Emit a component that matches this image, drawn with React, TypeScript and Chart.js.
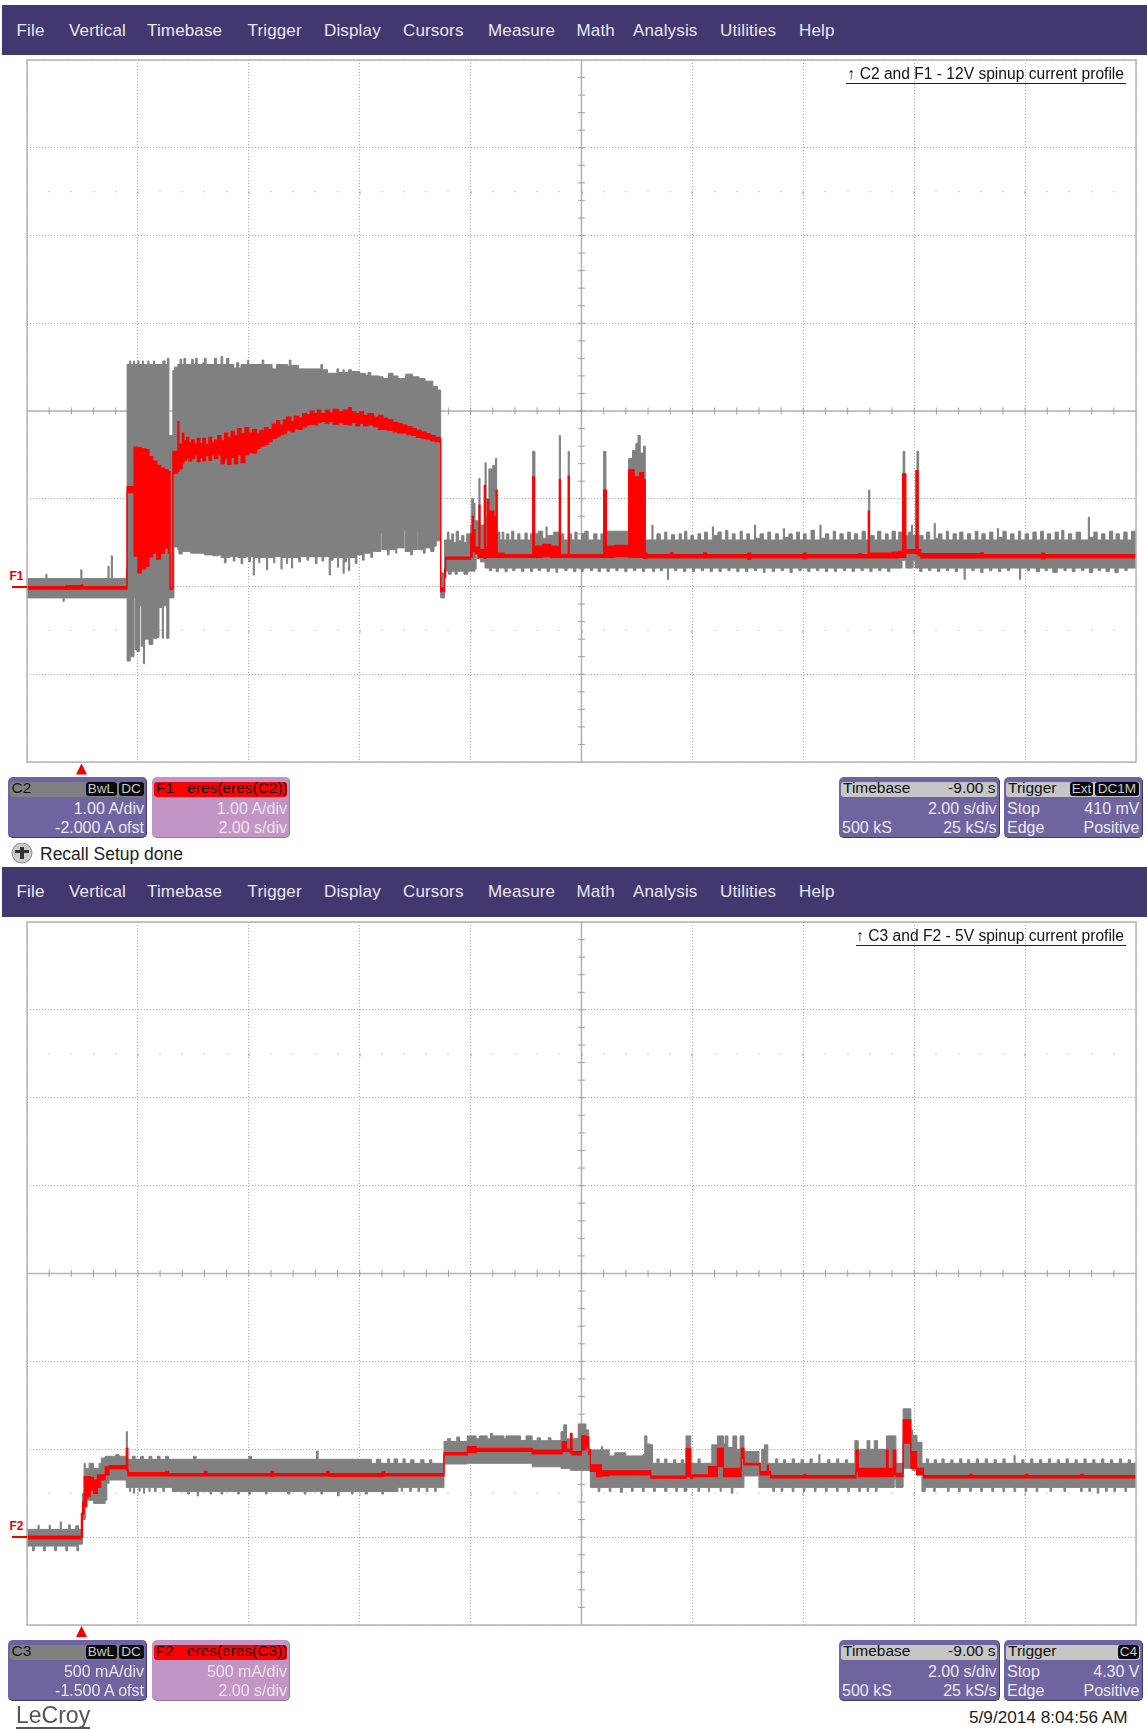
import React, { useEffect, useRef } from "react";
import { Chart, registerables } from "chart.js";
Chart.register(...registerables);

const menuLabels = ["File", "Vertical", "Timebase", "Trigger", "Display", "Cursors", "Measure", "Math", "Analysis", "Utilities", "Help"];
const menuLefts = [16.5, 69, 147, 247.5, 324, 403, 488, 576.5, 633, 720, 799];

// ---- 12 V panel: [time s, current A]; each value holds until the next time
const c2Upper = [
  [-1,.09],[-.66,.14],[-.64,.09],[-.03,.19],[-.01,.09],[.46,.23],[.48,.09],[.52,.35],[.54,.09],[.79,.2],
  [.805,2.53],[.85,2.57],[.87,2.53],[.92,2.57],[.94,2.53],[1.0,2.57],[1.02,2.53],[1.08,2.57],[1.1,2.53],[1.18,2.57],[1.2,2.53],[1.28,2.57],[1.3,2.53],[1.45,2.57],[1.49,2.53],[1.53,2.6],[1.56,1.72],
  [1.63,2.46],[1.66,2.5],[1.72,2.53],[1.76,2.59],[1.79,2.53],[1.83,2.6],[1.86,2.53],[1.97,2.59],[2.0,2.53],[2.04,2.6],[2.07,2.53],[2.17,2.55],[2.2,2.6],[2.23,2.53],[2.38,2.6],[2.42,2.53],[2.5,2.62],[2.53,2.53],[2.6,2.6],[2.64,2.53],[2.73,2.49],[2.78,2.55],[2.82,2.49],[2.86,2.53],[2.98,2.58],[3.0,2.53],[3.24,2.58],[3.27,2.53],[3.42,2.48],[3.5,2.53],[3.62,2.53],[3.7,2.51],[3.73,2.58],[3.76,2.52],[3.9,2.48],[4.3,2.53],[4.33,2.47],[4.42,2.43],[4.59,2.48],[4.62,2.44],[4.7,2.47],[4.72,2.44],[4.8,2.47],[4.85,2.45],[5.0,2.43],[5.1,2.41],[5.15,2.44],[5.2,2.4],[5.35,2.39],[5.42,2.37],[5.52,2.43],[5.6,2.4],[5.69,2.37],[5.83,2.42],[5.95,2.39],[6.07,2.37],[6.18,2.34],[6.32,2.28],[6.4,2.24],
  [6.46,.155],[6.53,.53],[6.58,.62],[6.61,.53],[6.66,.6],[6.69,.5],[6.74,.63],[6.78,.52],[6.84,.58],[6.88,.5],[6.93,.6],[6.98,.58],
  [7.0,.7],[7.02,1.0],[7.05,.95],[7.08,.75],[7.15,1.23],[7.17,.7],[7.26,1.41],[7.28,.8],[7.3,1.0],[7.33,1.34],[7.4,1.38],[7.45,1.46],[7.47,.62],[7.53,.53],[7.57,.62],[7.6,.53],[7.65,.6],[7.69,.53],[7.74,.63],[7.78,.53],[7.85,.6],[7.89,.53],[7.98,.61],[8.02,.53],[8.08,.6],
  [8.12,1.54],[8.16,.6],[8.22,.63],[8.3,.55],[8.36,.68],[8.38,.58],[8.5,.62],[8.6,1.72],[8.62,.6],[8.68,.53],[8.76,1.54],[8.78,.6],[8.82,.53],[8.88,.62],[8.92,.53],[9.0,.6],[9.06,.63],[9.12,.53],[9.22,.6],[9.28,.53],[9.35,.6],
  [9.4,1.54],[9.44,.63],[9.85,1.46],[9.92,1.55],[9.98,1.63],[10.02,1.72],[10.06,1.52],[10.12,1.6],[10.15,.53],
  [10.27,.7],[10.29,.53],[10.36,.6],[10.42,.53],[10.5,.62],[10.54,.53],[10.62,.59],[10.68,.53],[10.76,.6],[10.8,.53],[10.86,.63],[10.9,.53],[10.97,.58],[11.02,.53],[11.1,.6],[11.15,.53],[11.22,.62],[11.27,.53],[11.36,.68],[11.38,.58],[11.46,.62],[11.52,.53],[11.6,.64],[11.64,.53],[11.72,.6],[11.77,.53],[11.86,.63],[11.9,.53],[11.98,.6],[12.03,.53],[12.12,.7],[12.14,.55],[12.22,.6],[12.28,.53],[12.36,.62],[12.41,.53],[12.5,.6],[12.55,.53],[12.64,.66],[12.66,.56],[12.74,.6],[12.8,.53],[12.88,.62],[12.93,.53],[13.0,.6],[13.05,.53],[13.14,.64],[13.2,.53],[13.3,.7],[13.32,.55],[13.4,.6],[13.46,.53],[13.54,.63],[13.58,.53],[13.66,.6],[13.72,.53],[13.8,.62],[13.85,.53],[13.92,.6],[13.98,.53],[14.06,.63],[14.12,.53],
  [14.18,1.1],[14.2,.58],[14.28,.53],[14.34,.63],[14.4,.53],[14.48,.6],[14.53,.53],[14.6,.63],[14.66,.53],[14.72,.62],[14.8,1.54],[14.83,.58],[14.9,.62],[14.95,.7],[14.97,.58],[15.05,1.54],[15.08,.58],[15.16,.53],
  [15.22,.62],[15.28,.53],[15.36,.72],[15.38,.55],[15.44,.6],[15.5,.53],[15.58,.63],[15.62,.53],[15.7,.6],[15.76,.53],[15.82,.62],[15.88,.53],[15.96,.6],[16.02,.53],[16.1,.63],[16.15,.53],[16.22,.6],[16.28,.53],[16.36,.62],[16.42,.53],[16.5,.66],[16.52,.56],[16.6,.63],[16.66,.53],[16.74,.6],[16.8,.53],[16.88,.63],[16.92,.53],[17.0,.6],[17.06,.53],[17.14,.62],[17.2,.53],[17.28,.63],[17.33,.53],[17.4,.6],[17.46,.53],[17.54,.62],[17.6,.53],[17.66,.64],[17.7,.53],[17.78,.6],[17.84,.53],[17.92,.62],[18.0,.53],[18.14,.79],[18.16,.56],[18.24,.62],[18.3,.53],[18.38,.6],[18.44,.53],[18.52,.63],[18.58,.53],[18.64,.6],[18.7,.53],[18.78,.62],[18.84,.53],[18.92,.63],[19,.63],
];
const c2Lower = [
  [-1,-.13],[-.7,-.13],[-.35,-.17],[-.33,-.13],[.79,-.13],
  [.805,-.85],[.86,-.8],[.93,-.13],[.95,-.72],[.98,-.74],[1.03,-.22],[1.06,-.68],[1.1,-.88],[1.12,-.6],[1.2,-.66],[1.27,-.59],[1.34,-.58],[1.38,-.24],[1.44,-.59],[1.46,-.22],[1.52,-.59],[1.56,-.13],[1.6,-.13],
  [1.65,.45],[1.72,.42],[1.74,.37],[1.8,.4],[1.95,.38],[2.05,.38],[2.2,.36],[2.35,.35],[2.45,.36],[2.5,.33],[2.56,.27],[2.59,.33],[2.66,.34],[2.72,.29],[2.75,.34],[2.8,.33],[2.86,.26],[2.89,.33],[2.95,.34],[3.0,.28],[3.03,.34],[3.08,.13],[3.1,.33],[3.18,.27],[3.2,.33],[3.28,.33],[3.32,.19],[3.34,.33],[3.45,.27],[3.47,.34],[3.58,.2],[3.6,.33],[3.68,.26],[3.7,.33],[3.77,.21],[3.79,.33],[3.9,.28],[3.93,.34],[4.05,.3],[4.08,.34],[4.2,.26],[4.23,.34],[4.32,.29],[4.35,.34],[4.45,.13],[4.47,.3],[4.52,.33],[4.6,.22],[4.62,.33],[4.7,.15],[4.72,.28],[4.76,.33],[4.8,.18],[4.82,.33],[4.92,.26],[4.95,.36],[5.05,.3],[5.08,.38],[5.2,.33],[5.23,.4],[5.38,.61],[5.4,.42],[5.5,.36],[5.53,.42],[5.65,.38],[5.67,.44],[5.8,.64],[5.82,.4],[5.92,.36],[5.95,.42],[6.04,.62],[6.06,.42],[6.15,.38],[6.18,.44],[6.28,.4],[6.34,.46],[6.38,.52],
  [6.46,-.13],[6.53,.175],[6.6,.14],[6.65,.175],[6.72,.14],[6.76,.175],[6.88,.14],[6.95,.175],[7.08,.2],[7.1,.38],[7.18,.28],[7.26,.21],
  [7.34,.18],[7.38,.21],[7.46,.17],[7.5,.21],[7.62,.17],[7.66,.21],[7.76,.18],[7.8,.21],[7.92,.17],[7.96,.21],[8.08,.17],[8.12,.21],[8.22,.18],[8.26,.21],[8.38,.17],[8.42,.21],[8.54,.16],[8.57,.21],[8.7,.18],[8.74,.21],[8.86,.17],[8.9,.21],[9.0,.17],[9.03,.21],[9.16,.18],[9.2,.21],[9.3,.17],[9.34,.21],[9.46,.17],[9.5,.21],[9.62,.18],[9.66,.21],[9.78,.17],[9.82,.21],[9.94,.18],[9.98,.21],[10.1,.17],[10.14,.21],[10.28,.17],[10.32,.21],[10.42,.18],[10.46,.21],[10.55,.08],[10.57,.21],[10.68,.18],[10.72,.21],[10.84,.17],[10.88,.21],[11.0,.17],[11.04,.21],[11.16,.18],[11.2,.21],[11.32,.17],[11.36,.21],[11.48,.17],[11.52,.21],[11.64,.18],[11.68,.21],[11.8,.17],[11.84,.21],[11.96,.17],[12.0,.21],[12.12,.18],[12.16,.21],[12.28,.16],[12.31,.21],[12.44,.17],[12.48,.21],[12.6,.18],[12.64,.21],[12.76,.16],[12.8,.21],[12.92,.18],[12.96,.21],[13.08,.17],[13.12,.21],[13.24,.18],[13.28,.21],[13.4,.17],[13.44,.21],[13.56,.17],[13.6,.21],[13.72,.18],[13.76,.21],[13.88,.17],[13.92,.21],[14.04,.18],[14.08,.21],[14.2,.17],[14.24,.21],[14.36,.18],[14.4,.21],[14.52,.17],[14.56,.21],[14.78,.3],[14.85,.21],[14.98,.3],[15.02,.21],[15.1,.17],[15.14,.21],[15.26,.18],[15.3,.21],[15.42,.17],[15.46,.21],[15.58,.18],[15.62,.21],[15.74,.17],[15.78,.21],[15.9,.08],[15.92,.21],[16.04,.18],[16.08,.21],[16.2,.16],[16.24,.21],[16.36,.18],[16.4,.21],[16.52,.17],[16.56,.21],[16.68,.18],[16.72,.21],[16.9,.08],[16.92,.21],[17.04,.18],[17.08,.21],[17.2,.17],[17.26,.21],[17.36,.18],[17.4,.21],[17.5,.16],[17.58,.21],[17.7,.18],[17.74,.21],[17.85,.17],[17.9,.21],[18.02,.18],[18.06,.21],[18.16,.16],[18.22,.21],[18.32,.18],[18.36,.21],[18.46,.17],[18.52,.21],[18.62,.16],[18.68,.21],[18.8,.18],[18.84,.21],[19,.21],
];
// [time s, top of trace A, bottom of trace A]
const f1Band = [
  [-1,0,-.03],[-.3,.01,-.03],[-.02,.02,-.02],[.01,0,-.03],[.8,0,-.03],
  [.805,1.14,1.07],[.93,1.59,.345],[1.0,1.58,.155],[1.06,1.57,.2],[1.14,1.56,.23],[1.2,1.48,.34],[1.27,1.43,.38],[1.34,1.38,.31],[1.41,1.35,.38],[1.48,1.33,.44],[1.55,1.31,.38],[1.58,-.015,-.03],
  [1.63,1.54,1.29],[1.72,1.88,1.31],[1.74,1.62,1.34],[1.8,1.75,1.41],[1.83,1.66,1.44],[1.88,1.7,1.47],[1.92,1.64,1.43],[1.97,1.67,1.46],[2.02,1.62,1.5],[2.07,1.69,1.42],[2.12,1.63,1.47],[2.17,1.69,1.43],[2.22,1.62,1.49],[2.28,1.7,1.44],[2.33,1.64,1.5],[2.38,1.67,1.46],[2.44,1.72,1.5],[2.5,1.66,1.4],[2.56,1.75,1.46],[2.62,1.7,1.39],[2.68,1.77,1.47],[2.74,1.72,1.4],[2.8,1.8,1.5],[2.86,1.74,1.41],[2.93,1.81,1.5],[3.0,1.75,1.53],[3.07,1.79,1.52],[3.14,1.74,1.57],[3.2,1.78,1.6],[3.28,1.81,1.62],[3.35,1.79,1.65],[3.42,1.85,1.69],[3.5,1.89,1.71],[3.56,1.84,1.73],[3.62,1.9,1.74],[3.68,1.93,1.78],[3.76,1.88,1.76],[3.82,1.94,1.8],[3.9,1.92,1.79],[3.97,1.97,1.82],[4.04,1.96,1.84],[4.11,2.0,1.85],[4.18,1.97,1.84],[4.24,2.01,1.87],[4.3,1.97,1.88],[4.38,2.01,1.86],[4.45,1.98,1.88],[4.52,2.02,1.85],[4.62,1.99,1.87],[4.7,2.01,1.85],[4.8,2.04,1.84],[4.85,1.99,1.87],[4.93,1.97,1.83],[5.0,1.99,1.86],[5.07,1.95,1.83],[5.15,1.97,1.84],[5.25,1.93,1.82],[5.34,1.95,1.79],[5.42,1.92,1.79],[5.5,1.9,1.78],[5.6,1.87,1.76],[5.68,1.86,1.75],[5.76,1.84,1.75],[5.85,1.82,1.73],[5.94,1.8,1.72],[6.02,1.78,1.7],[6.11,1.76,1.69],[6.2,1.74,1.68],[6.28,1.72,1.66],[6.36,1.7,1.65],[6.45,1.69,1.64],
  [6.46,-.015,-.06],[6.53,.2,.1],[6.55,.335,.31],[6.98,.335,.31],[7.0,.6,.33],[7.03,.8,.4],[7.05,.65,.4],[7.08,.45,.37],[7.13,.4,.32],[7.15,.93,.33],[7.17,.42,.33],[7.245,1.15,.32],[7.27,.45,.33],[7.3,.99,.33],[7.33,.7,.33],[7.35,.86,.33],[7.42,.8,.33],[7.46,1.1,.33],[7.48,.38,.33],[7.6,.365,.33],
  [8.12,1.25,.33],[8.15,.46,.33],[8.3,.48,.34],[8.45,.46,.33],[8.6,1.22,.33],[8.62,.365,.33],[8.76,1.26,.33],[8.78,.365,.33],
  [9.4,1.1,.33],[9.45,.46,.33],[9.6,.47,.34],[9.85,1.33,.33],[9.95,1.25,.33],[10.05,1.3,.33],[10.12,1.22,.32],[10.15,.38,.32],[10.18,.365,.325],[10.6,.385,.325],[10.65,.365,.325],[11.2,.385,.325],[11.25,.365,.325],[12,.38,.31],[12.05,.365,.325],[13,.38,.315],[13.05,.365,.325],[14,.375,.325],[14.05,.365,.325],
  [14.17,.86,.33],[14.19,.38,.325],[14.6,.39,.325],[14.72,.4,.33],[14.79,1.285,.33],[14.85,.42,.38],[15.03,1.32,.37],[15.07,.42,.35],[15.12,.375,.325],[16.2,.385,.325],[16.25,.365,.325],[17.3,.38,.315],[17.35,.365,.325],[19,.365,.325],
];

// ---- 5 V panel
const c3Upper = [
  [-1,.044],[-.8,.068],[-.78,.044],[-.6,.068],[-.58,.044],[-.4,.087],[-.38,.044],[-.25,.07],[-.22,.044],[-.12,.065],[-.07,.044],[-.02,.1],[0,.25],[.03,.42],[.05,.39],[.09,.39],[.12,.42],[.2,.39],[.26,.39],[.3,.42],[.34,.45],[.41,.46],[.55,.46],[.6,.47],[.66,.46],[.77,.46],
  [.79,.6],[.81,.443],[.9,.46],[.95,.443],[1.05,.46],[1.1,.443],[1.2,.46],[1.25,.443],[1.35,.46],[1.4,.443],[1.5,.46],[1.55,.443],[2.0,.46],[2.05,.443],[3.0,.46],[3.05,.443],[4.22,.49],[4.25,.443],
  [5.21,.42],[5.3,.443],[5.38,.42],[5.5,.445],[5.54,.42],[5.62,.445],[5.68,.42],[5.78,.445],[5.82,.42],[5.92,.44],[5.98,.42],[6.1,.44],[6.16,.42],[6.26,.44],[6.3,.42],
  [6.52,.544],[6.58,.56],[6.64,.544],[6.75,.57],[6.8,.544],[6.94,.576],[7.1,.56],[7.16,.576],[7.3,.56],[7.36,.59],[7.4,.576],[7.6,.56],[7.64,.576],[7.9,.55],[8.0,.576],[8.11,.549],[8.2,.565],[8.26,.549],[8.4,.565],[8.45,.549],[8.63,.6],[8.68,.639],[8.73,.56],[8.78,.549],[8.8,.56],[8.94,.644],[9.08,.61],[9.13,.5],[9.16,.496],[9.36,.515],[9.38,.496],[9.5,.462],[9.6,.48],[9.8,.462],[10.11,.47],[10.14,.576],[10.18,.53],[10.24,.525],
  [10.28,.42],[10.36,.445],[10.4,.42],[10.5,.445],[10.54,.42],[10.66,.44],[10.7,.42],[10.8,.44],[10.84,.42],[10.885,.576],[10.97,.42],[11.1,.445],[11.14,.42],[11.29,.42],[11.35,.525],[11.45,.576],[11.56,.53],[11.59,.576],[11.64,.51],[11.73,.576],[11.8,.5],[11.86,.576],[11.93,.487],[12.2,.42],[12.25,.5],[12.3,.525],[12.36,.42],
  [12.5,.445],[12.54,.42],[12.64,.44],[12.68,.42],[12.8,.445],[12.84,.42],[12.96,.44],[13,.42],[13.12,.445],[13.16,.42],[13.28,.47],[13.3,.42],[13.44,.44],[13.48,.42],[13.6,.445],[13.64,.42],[13.76,.44],[13.8,.42],[13.93,.549],[13.99,.496],[14.03,.5],[14.15,.549],[14.2,.5],[14.28,.549],[14.34,.5],[14.43,.5],[14.5,.576],[14.64,.576],[14.67,.42],[14.8,.73],[14.94,.61],[14.97,.58],[15.05,.54],
  [15.14,.42],[15.22,.445],[15.26,.42],[15.36,.44],[15.4,.42],[15.5,.445],[15.54,.42],[15.66,.44],[15.7,.42],[15.82,.445],[15.86,.42],[15.96,.44],[16.0,.42],[16.12,.445],[16.16,.42],[16.28,.445],[16.32,.42],[16.44,.44],[16.48,.42],[16.6,.445],[16.64,.42],[16.8,.465],[16.82,.42],[16.94,.44],[16.98,.42],[17.1,.445],[17.14,.42],[17.26,.44],[17.3,.42],[17.42,.445],[17.46,.42],[17.58,.44],[17.62,.42],[17.74,.445],[17.78,.42],[17.9,.44],[17.94,.42],[18.06,.445],[18.1,.42],[18.22,.44],[18.26,.42],[18.38,.445],[18.42,.42],[18.54,.44],[18.58,.42],[18.7,.445],[18.74,.42],[18.86,.44],[18.9,.42],[19,.42],
];
const c3Lower = [
  [-1,-.051],[-.9,-.078],[-.87,-.051],[-.7,-.078],[-.67,-.051],[-.5,-.078],[-.47,-.051],[-.3,-.078],[-.27,-.051],[-.1,-.078],[-.07,-.04],[0,.1],[.05,.21],[.2,.192],[.41,.21],[.44,.306],[.48,.325],
  [.79,.283],[.85,.26],[.87,.283],[.92,.25],[.94,.283],[1.02,.26],[1.04,.283],[1.1,.25],[1.12,.283],[1.2,.26],[1.22,.283],[1.3,.26],[1.33,.283],[1.45,.26],[1.48,.283],
  [1.62,.259],[1.9,.245],[1.93,.259],[2.07,.234],[2.09,.259],[2.3,.245],[2.33,.259],[2.5,.245],[2.53,.259],[2.8,.245],[2.83,.259],[3.0,.245],[3.03,.259],[3.3,.245],[3.33,.259],[3.7,.245],[3.74,.259],[4.0,.245],[4.03,.259],[4.3,.245],[4.33,.259],[4.6,.235],[4.63,.259],[4.85,.245],[4.88,.259],[5.1,.245],[5.14,.259],[5.4,.245],[5.43,.259],
  [5.69,.283],[5.75,.26],[5.77,.283],[5.9,.26],[5.93,.283],[6.05,.26],[6.08,.283],[6.2,.26],[6.23,.283],[6.35,.26],[6.38,.283],
  [6.52,.416],[6.94,.42],[8.11,.4],[8.63,.39],[8.8,.38],[8.94,.38],[9.08,.38],[9.16,.283],[9.3,.26],[9.33,.283],[9.5,.26],[9.53,.283],[9.7,.255],[9.74,.283],[9.9,.26],[9.93,.283],[10.1,.26],[10.13,.283],[10.3,.26],[10.33,.283],[10.5,.26],[10.54,.283],[10.7,.26],[10.73,.283],[10.85,.26],[10.9,.283],[11.1,.26],[11.13,.283],[11.29,.259],[11.31,.283],[11.5,.26],[11.52,.283],[11.7,.25],[11.73,.283],[11.93,.348],[12.2,.283],[12.45,.26],[12.48,.283],[12.6,.26],[12.63,.283],[12.8,.26],[12.83,.283],[13.0,.26],[13.03,.283],[13.2,.26],[13.23,.283],[13.4,.26],[13.43,.283],[13.6,.26],[13.63,.283],[13.8,.26],[13.83,.283],[14.0,.26],[14.03,.283],[14.15,.26],[14.18,.283],[14.3,.26],[14.33,.283],[14.64,.33],[14.67,.283],[14.8,.392],[14.97,.38],[15.14,.26],[15.2,.283],[15.35,.26],[15.38,.283],[15.6,.26],[15.63,.283],[15.8,.26],[15.83,.283],[16.0,.26],[16.03,.283],[16.2,.26],[16.23,.283],[16.4,.26],[16.43,.283],[16.6,.26],[16.63,.283],[16.8,.26],[16.83,.283],[17.0,.26],[17.03,.283],[17.2,.26],[17.23,.283],[17.45,.26],[17.48,.283],[17.7,.26],[17.73,.283],[18,.26],[18.03,.283],[18.15,.26],[18.18,.283],[18.3,.25],[18.33,.283],[18.45,.26],[18.48,.283],[18.6,.26],[18.63,.283],[18.8,.26],[18.83,.283],[19,.283],
];
const f2Band = [
  [-1,.006,-.01],[-.02,.135,0],[0,.2,.13],[.03,.344,.173],[.08,.344,.23],[.14,.34,.268],[.2,.325,.249],[.27,.354,.283],[.33,.354,.325],[.41,.4,.354],[.48,.407,.388],[.79,.506,.382],[.82,.367,.348],
  [1.5,.375,.348],[1.55,.362,.348],[2.2,.375,.348],[2.25,.362,.348],[3.4,.375,.345],[3.45,.362,.348],[4.4,.375,.348],[4.45,.362,.345],[5.4,.372,.345],[5.45,.362,.348],
  [6.52,.481,.468],[6.94,.515,.481],[7.1,.506,.487],[8.11,.496,.473],[8.65,.544,.487],[8.73,.5,.487],[8.8,.591,.477],[8.83,.487,.468],[9.0,.576,.496],[9.08,.572,.515],[9.13,.496,.47],[9.16,.411,.373],[9.27,.411,.344],[9.36,.378,.348],[9.5,.378,.354],
  [10.25,.348,.335],[10.885,.506,.344],[10.97,.354,.335],[11.0,.354,.344],[11.29,.401,.344],[11.45,.506,.401],[11.56,.392,.344],[11.6,.392,.344],[11.88,.506,.449],[11.93,.42,.411],[11.95,.42,.411],[12.22,.373,.354],[12.35,.41,.354],[12.37,.373,.354],
  [12.41,.35,.337],[13.0,.355,.337],[13.05,.35,.337],[13.95,.496,.373],[13.99,.392,.344],[14.03,.392,.344],[14.5,.496,.344],[14.53,.392,.344],[14.62,.496,.354],[14.67,.363,.344],[14.8,.667,.534],[14.94,.487,.392],[15.04,.392,.354],
  [15.17,.35,.337],[16,.358,.337],[16.05,.35,.337],[17,.358,.337],[17.05,.35,.337],[18,.358,.337],[18.05,.35,.337],[19,.35,.337],
];

function Trace(props: any) {
  const ref = useRef<HTMLCanvasElement>(null);
  useEffect(() => {
    const { upper, lower, band, yMin, yMax, yStep } = props;
    const line = (data: any, color: string, width: number, fill: any) => ({
      data, borderColor: color, backgroundColor: color, borderWidth: width, fill,
      pointRadius: 0, stepped: true, tension: 0,
    });
    const scope = {
      id: "scope",
      beforeDatasetsDraw(c: any) {
        const { ctx, scales: { x, y }, chartArea: a } = c;
        const cx = x.getPixelForValue(9), cy = y.getPixelForValue((yMin + yMax) / 2);
        ctx.save();
        ctx.strokeStyle = "#b4b4b4";
        ctx.lineWidth = 1.6;
        ctx.beginPath();
        ctx.moveTo(a.left, cy); ctx.lineTo(a.right, cy);
        ctx.moveTo(cx, a.top); ctx.lineTo(cx, a.bottom);
        ctx.stroke();
        ctx.strokeStyle = "#a0a0a0";
        ctx.lineWidth = 1;
        ctx.beginPath();
        for (let i = 1; i < 50; i++) {
          const px = x.getPixelForValue(-1 + i * 0.4);
          ctx.moveTo(px, cy - 3.5); ctx.lineTo(px, cy + 3.5);
        }
        for (let i = 1; i < 40; i++) {
          const py = y.getPixelForValue(yMin + i * yStep * 0.2);
          ctx.moveTo(cx - 3.5, py); ctx.lineTo(cx + 3.5, py);
        }
        ctx.stroke();
        ctx.fillStyle = "#a0a0a0";
        for (const d of [1.5, 6.5]) {
          const py = y.getPixelForValue(yMin + d * yStep);
          for (let i = 1; i < 50; i++) {
            const px = x.getPixelForValue(-1 + i * 0.4);
            ctx.fillRect(Math.round(px) - 0.5, py - 0.5, 1, i % 5 === 0 ? 3 : 1);
          }
        }
        ctx.restore();
      },
      afterDraw(c: any) {
        const { ctx, chartArea: a } = c;
        ctx.save();
        ctx.strokeStyle = "#b4b4b4";
        ctx.lineWidth = 1.5;
        ctx.strokeRect(a.left, a.top, a.right - a.left, a.bottom - a.top);
        ctx.restore();
      },
    };
    const chart = new Chart(ref.current as any, {
      type: "line",
      data: {
        datasets: [
          line(band.map((r: number[]) => ({ x: r[0], y: r[1] })), "#ff0000", 1.1, "+1"),
          line(band.map((r: number[]) => ({ x: r[0], y: r[2] })), "#ff0000", 1.1, false),
          line(upper.map((r: number[]) => ({ x: r[0], y: r[1] })), "#808080", 1, "+1"),
          line(lower.map((r: number[]) => ({ x: r[0], y: r[1] })), "#808080", 1, false),
        ],
      } as any,
      options: {
        animation: false,
        responsive: false,
        layout: { padding: 2 },
        plugins: { legend: { display: false }, tooltip: { enabled: false } },
        scales: {
          x: {
            type: "linear", min: -1, max: 19,
            border: { display: false, dash: [1, 2] },
            grid: { color: "#a8a8a8", tickLength: 0, lineWidth: 1 },
            ticks: { display: false, stepSize: 2 },
          },
          y: {
            type: "linear", min: yMin, max: yMax,
            border: { display: false, dash: [1, 2] },
            grid: { color: "#a8a8a8", tickLength: 0, lineWidth: 1 },
            ticks: { display: false, stepSize: yStep },
          },
        },
      } as any,
      plugins: [scope],
    });
    return () => chart.destroy();
  }, []);
  return (
    <canvas ref={ref} width={1113} height={props.height + 4}
      style={{ position: "absolute", left: 25, top: props.top - 2, width: 1113, height: props.height + 4 }} />
  );
}

const font = '"Liberation Sans", Arial, sans-serif';

function T({ x, right, y, size = 16, color = "#ece8f2", children, style }: any) {
  const pos: any = right !== undefined ? { right } : { left: x };
  return (
    <div style={{ position: "absolute", ...pos, top: y, lineHeight: "0px", fontFamily: font, fontSize: size, color, whiteSpace: "pre", ...style }}>
      {children}
    </div>
  );
}

function Badge({ right, w, children }: any) {
  return (
    <div style={{ position: "absolute", left: right - w, width: w, top: 0.5, height: 14, background: "#0a0a0a", color: "#c8c8c8", borderRadius: 3, fontFamily: font, fontSize: 13.5, lineHeight: "14px", textAlign: "center", overflow: "hidden" }}>
      {children}
    </div>
  );
}

function Box({ x0, x1, y0, fill, band, bandColor = "#111", head, headRight, rows, badges, edge, textColor }: any) {
  const w = x1 - x0;
  return (
    <div style={{ position: "absolute", left: x0, top: y0, width: w, height: 61, background: fill, borderRadius: 5, borderBottom: `1.5px solid ${edge}`, borderRight: `1px solid ${edge}`, boxSizing: "border-box" }}>
      <div style={{ position: "absolute", left: 2, right: 2, top: 4.5, height: 15, background: band, borderRadius: 3 }}>
        {badges}
      </div>
      {head && <T x={4} y={11} color={bandColor} size={15.5}>{head}</T>}
      {headRight && <T right={3} y={11} color={bandColor} size={15.5}>{headRight}</T>}
      {rows.map((r: any, i: number) => (
        <React.Fragment key={i}>
          {r[0] && <T x={3} y={32 + i * 18.5} color={textColor}>{r[0]}</T>}
          {r[1] && <T right={2} y={32 + i * 18.5} color={textColor}>{r[1]}</T>}
        </React.Fragment>
      ))}
    </div>
  );
}

function Menu({ top }: any) {
  return (
    <div style={{ position: "absolute", left: 2, right: 0, top, height: 50, background: "#43376f" }}>
      {menuLabels.map((m, i) => (
        <T key={m} x={menuLefts[i] - 2} y={25.5} size={17} color="#e9e8f0" style={{ letterSpacing: 0.15 }}>{m}</T>
      ))}
    </div>
  );
}

function Title({ text, left, right, top }: any) {
  return (
    <div style={{ position: "absolute", left, width: right - left, top, height: 20, borderBottom: "1.5px solid #222", fontFamily: font, fontSize: 15.6, lineHeight: "20px", color: "#111", whiteSpace: "pre", textAlign: "right", paddingRight: 2, boxSizing: "border-box" }}>
      {text}
    </div>
  );
}

function Marker({ label, y }: any) {
  return (
    <>
      <T x={9.5} y={y - 11.5} size={12} color="#ee0000" style={{ fontWeight: 700 }}>{label}</T>
      <div style={{ position: "absolute", left: 12, width: 15, top: y - 1.5, height: 2.5, background: "#ee0000" }} />
    </>
  );
}

function Tri({ top }: any) {
  return <div style={{ position: "absolute", left: 76, top, width: 11, height: 11, background: "#ee0000", clipPath: "polygon(50% 0, 100% 100%, 0 100%)" }} />;
}

const purple = "#6f64a0";
const purpleEdge = "#3f3868";
const pink = "#c295c5";
const pinkEdge = "#8d78ac";
const grey = "#c6c6c6";

export default function App() {
  return (
    <div style={{ position: "absolute", left: 0, top: 0, width: 1147, height: 1729, background: "#fff", overflow: "hidden", filter: "blur(0.35px)" }}>
      <Menu top={5} />
      <Trace top={60} height={702} upper={c2Upper} lower={c2Lower} band={f1Band} yMin={-2} yMax={6} yStep={1} />
      <Title text="↑ C2 and F1 - 12V spinup current profile" left={846} right={1126} top={64} />
      <Marker label="F1" y={587} />
      <Tri top={763.5} />
      <Box x0={7.5} x1={147} y0={777} fill={purple} edge={purpleEdge} band="#808080" head="C2" rows={[[null, "1.00 A/div"], [null, "-2.000 A ofst"]]}
        badges={<><Badge right={107} w={31}>BwL</Badge><Badge right={134} w={25}>DC</Badge></>} />
      <Box x0={152} x1={290} y0={777} fill={pink} edge={pinkEdge} textColor="#efe3ef" band="#ff0000" head="F1   eres(eres(C2))" rows={[[null, "1.00 A/div"], [null, "2.00 s/div"]]} />
      <Box x0={839} x1={999.5} y0={777} fill={purple} edge={purpleEdge} band={grey} head="Timebase" headRight="-9.00 s" rows={[[null, "2.00 s/div"], ["500 kS", "25 kS/s"]]} />
      <Box x0={1004} x1={1142.5} y0={777} fill={purple} edge={purpleEdge} band={grey} head="Trigger" rows={[["Stop", "410 mV"], ["Edge", "Positive"]]}
        badges={<><Badge right={87} w={23}>Ext</Badge><Badge right={133} w={44}>DC1M</Badge></>} />
      <svg style={{ position: "absolute", left: 10, top: 843 }} width="24" height="23" viewBox="0 0 24 23">
        <circle cx="12" cy="10" r="10" fill="#ccc" stroke="#888" />
        <path d="M5 7h14v3H5zM10 4h4v12h-4z" fill="#333" />
      </svg>
      <T x={40} y={854} size={17.5} color="#222">Recall Setup done</T>

      <Menu top={866.7} />
      <Trace top={922} height={703} upper={c3Upper} lower={c3Lower} band={f2Band} yMin={-0.5} yMax={3.5} yStep={0.5} />
      <Title text="↑ C3 and F2 - 5V spinup current profile" left={856} right={1126} top={926} />
      <Marker label="F2" y={1537} />
      <Tri top={1626} />
      <Box x0={7.5} x1={147} y0={1640} fill={purple} edge={purpleEdge} band="#808080" head="C3" rows={[[null, "500 mA/div"], [null, "-1.500 A ofst"]]}
        badges={<><Badge right={107} w={31}>BwL</Badge><Badge right={134} w={25}>DC</Badge></>} />
      <Box x0={152} x1={290} y0={1640} fill={pink} edge={pinkEdge} textColor="#efe3ef" band="#ff0000" head="F2   eres(eres(C3))" rows={[[null, "500 mA/div"], [null, "2.00 s/div"]]} />
      <Box x0={839} x1={999.5} y0={1640} fill={purple} edge={purpleEdge} band={grey} head="Timebase" headRight="-9.00 s" rows={[[null, "2.00 s/div"], ["500 kS", "25 kS/s"]]} />
      <Box x0={1004} x1={1142.5} y0={1640} fill={purple} edge={purpleEdge} band={grey} head="Trigger" rows={[["Stop", "4.30 V"], ["Edge", "Positive"]]}
        badges={<Badge right={133} w={21}>C4</Badge>} />
      <div style={{ position: "absolute", left: 16, top: 1703, fontFamily: font, fontSize: 23, lineHeight: "24px", color: "#555", borderBottom: "2px solid #555", fontWeight: 500 }}>LeCroy</div>
      <T x={969} y={1717} size={17.2} color="#222">5/9/2014 8:04:56 AM</T>
    </div>
  );
}
